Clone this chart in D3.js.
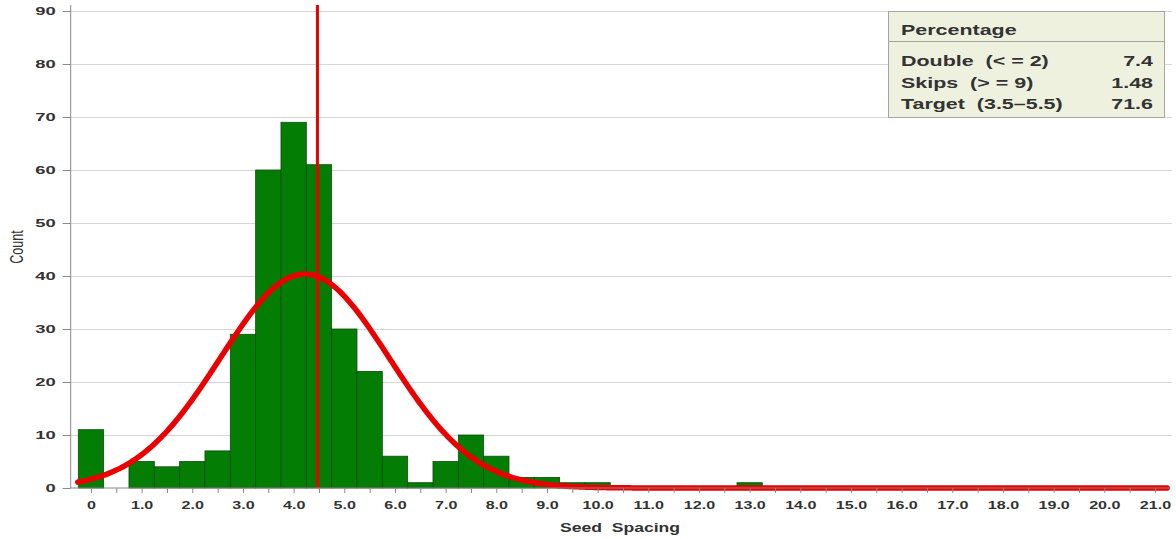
<!DOCTYPE html>
<html><head><meta charset="utf-8">
<script src="https://cdn.jsdelivr.net/npm/d3@7"></script>
<style>body{margin:0;background:#fff}svg{display:block}</style>
</head><body>
<svg id="c" width="1176" height="539"></svg>
<script>
// Histogram bins (0.5-wide bins centred on the value)
const binCenters = [0, 0.5, 1.0, 1.5, 2.0, 2.5, 3.0, 3.5, 4.0, 4.5, 5.0, 5.5, 6.0, 6.5, 7.0, 7.5, 8.0, 8.5, 9.0, 9.5, 10.0, 13.0];
const counts     = [11, 0,   5,   4,   5,   7,   29,  60,  69,  61,  30,  22,  6,   1,   5,   10,  6,   2,   2,   1,   1,    1];
const binWidth = 0.5;
const xTickValues = [0,1,2,3,4,5,6,7,8,9,10,11,12,13,14,15,16,17,18,19,20,21];
const xTickLabels = ["0","1.0","2.0","3.0","4.0","5.0","6.0","7.0","8.0","9.0","10.0","11.0","12.0","13.0","14.0","15.0","16.0","17.0","18.0","19.0","20.0","21.0"];
const yTickValues = [0,10,20,30,40,50,60,70,80,90];
const refLine = 4.47;
const normalMean = 4.22;
const normalSd = 1.67;
const legendTitle = "Percentage";
const legendLabels = ["Double  (< = 2)", "Skips  (> = 9)", "Target  (3.5\u20135.5)"];
const legendValues = ["7.4", "1.48", "71.6"];

const svg = d3.select("#c");
const x = d3.scaleLinear().domain([-0.4, 21.3]).range([70.7, 1170.2]);
const y = d3.scaleLinear().domain([0, 90]).range([488, 11]);
const font = "'Liberation Sans', Arial, Helvetica, sans-serif";
const txt = "#333";

// grid
svg.append("g").selectAll("line").data(yTickValues.slice(1)).join("line")
  .attr("x1", 71).attr("x2", 1172).attr("y1", d => y(d) + 0.5).attr("y2", d => y(d) + 0.5)
  .attr("stroke", "#d6d6d6").attr("stroke-width", 1);

// bars
svg.append("g").selectAll("rect").data(binCenters.map((c, i) => ({c, v: counts[i]})).filter(d => d.v > 0)).join("rect")
  .attr("x", d => x(d.c - binWidth / 2)).attr("width", d => x(d.c + binWidth / 2) - x(d.c - binWidth / 2))
  .attr("y", d => y(d.v)).attr("height", d => y(0) - y(d.v))
  .attr("fill", "#047d04").attr("stroke", "#0c4d0c").attr("stroke-width", 0.8);

// normal curve
const total = d3.sum(counts);
const norm = v => total * binWidth / (normalSd * Math.sqrt(2 * Math.PI)) * Math.exp(-((v - normalMean) ** 2) / (2 * normalSd ** 2));
const curvePts = d3.range(-0.26, 21.26, 0.05);
svg.append("path").datum(curvePts)
  .attr("d", d3.line().x(d => x(d)).y(d => y(norm(d))).curve(d3.curveBasis))
  .attr("fill", "none").attr("stroke", "#ea0000").attr("stroke-width", 5.5).attr("stroke-linecap", "round");

// reference line
svg.append("line").attr("x1", x(refLine)).attr("x2", x(refLine)).attr("y1", 5).attr("y2", y(0))
  .attr("stroke", "#ea0000").attr("stroke-width", 3);

// axes
const sxX = 1.4;
const gx = svg.append("g").attr("transform", `translate(0,${y(0)})`)
  .call(d3.axisBottom(x).tickValues(d3.range(0, 21.01, 0.5)).tickSize(5).tickSizeOuter(0)
    .tickFormat(d => { const i = xTickValues.indexOf(d); return i >= 0 ? xTickLabels[i] : ""; }));
gx.select(".domain").attr("stroke", "#888").attr("d", `M${x(-0.4)},0H${x(21.3)}`);
gx.selectAll(".tick line").attr("stroke", "#888");
gx.selectAll("text").attr("font-family", font).attr("font-weight", "bold").attr("font-size", 11.5)
  .attr("fill", txt).attr("y", 21).attr("dy", 0).attr("transform", `scale(${sxX},1)`);

const sxY = 1.6;
const gy = svg.append("g").attr("transform", `translate(${x(-0.4)},0)`)
  .call(d3.axisLeft(y).tickValues(yTickValues).tickSize(8).tickSizeOuter(0));
gy.select(".domain").attr("stroke", "#888").attr("d", "M0,5V488");
gy.selectAll(".tick line").attr("stroke", "#888");
gy.selectAll("text").attr("font-family", font).attr("font-weight", "bold").attr("font-size", 11.5)
  .attr("fill", txt).attr("x", -15 / sxY).attr("transform", `scale(${sxY},1)`);

svg.append("text").attr("transform", "translate(620,532) scale(1.35,1)").attr("text-anchor", "middle")
  .attr("font-family", font).attr("font-weight", "bold").attr("font-size", 13).attr("fill", txt)
  .style("white-space", "pre").text("Seed  Spacing");
svg.append("text").attr("transform", "translate(23,247) scale(1.4,1) rotate(-90)").attr("text-anchor", "middle")
  .attr("font-family", font).attr("font-size", 12.5).attr("fill", txt)
  .text("Count");

// legend box
const sxL = 1.43;
const lg = svg.append("g");
lg.append("rect").attr("x", 888.5).attr("y", 11.5).attr("width", 276).attr("height", 106)
  .attr("fill", "#edf1de").attr("stroke", "#a5a5a5");
lg.append("line").attr("x1", 888.5).attr("x2", 1164.5).attr("y1", 41.5).attr("y2", 41.5).attr("stroke", "#a5a5a5");
lg.append("text").attr("transform", `translate(901,34.5) scale(${sxL},1)`).attr("font-family", font).attr("font-weight", "bold")
  .attr("font-size", 15).attr("fill", txt).text(legendTitle);
lg.selectAll("text.l").data(legendLabels).join("text").attr("class", "l")
  .attr("transform", (d, i) => `translate(901,${66 + i * 21.5}) scale(${sxL},1)`).attr("font-family", font).attr("font-weight", "bold")
  .attr("font-size", 15).attr("fill", txt).style("white-space", "pre").text(d => d);
lg.selectAll("text.v").data(legendValues).join("text").attr("class", "v")
  .attr("transform", (d, i) => `translate(1153,${66 + i * 21.5}) scale(${sxL},1)`).attr("text-anchor", "end").attr("font-family", font)
  .attr("font-weight", "bold").attr("font-size", 15).attr("fill", txt).text(d => d);
</script>
</body></html>
